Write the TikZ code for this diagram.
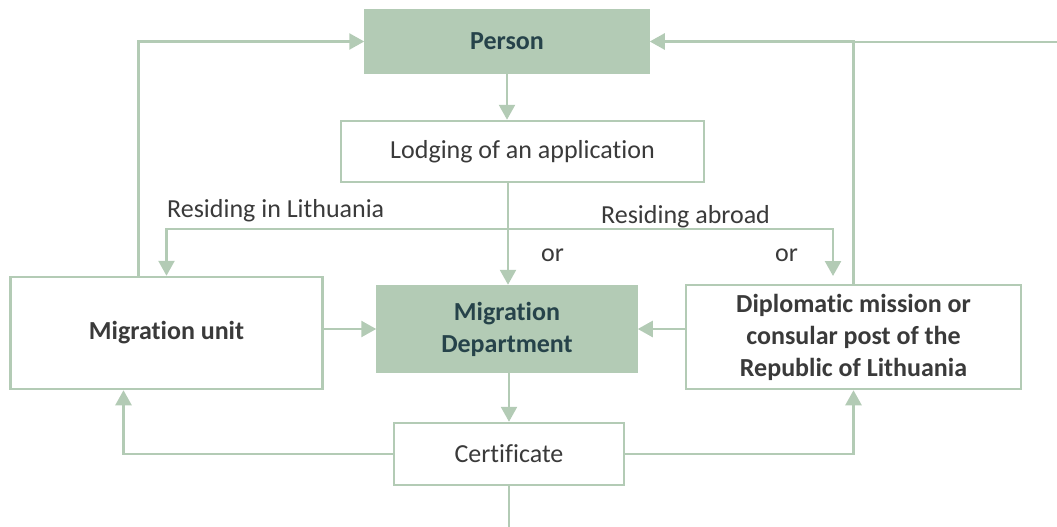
\documentclass[tikz,border=0pt]{standalone}
\usepackage{fontspec}
\setmainfont{Carlito}[Ligatures=NoCommon]
\usepackage{xcolor}
\usepackage{tikz}
\usetikzlibrary{arrows.meta, positioning}

\definecolor{sage}{HTML}{B3CBB5}
\definecolor{slate}{HTML}{26434A}
\definecolor{ink}{HTML}{3A3A3A}

\begin{document}
\begin{tikzpicture}[x=1pt, y=-1pt, node distance=110pt, auto]
\tikzstyle{box} = [rectangle, draw=sage, line width=2.5pt, fill=white, inner sep=0pt, align=center, text=ink, font=\fontsize{26}{32}\selectfont]
\tikzstyle{boldbox} = [box, font=\fontsize{26}{32}\selectfont\bfseries]
\tikzstyle{main} = [boldbox, fill=sage, text=slate]
\tikzstyle{tag} = [inner sep=0pt, anchor=base west, text=ink, font=\fontsize{26}{32}\selectfont]
\tikzstyle{line} = [draw=sage, line width=2.5pt, -{Triangle[length=15pt, width=16pt]}]
\tikzstyle{wire} = [draw=sage, line width=2.5pt]

\useasboundingbox (0,0) rectangle (1057,527);

\node [main, minimum width=283pt, minimum height=63pt] (person) at (507,41.5) {Person};
\node [box, below of=person, xshift=15.5pt, minimum width=363pt, minimum height=61pt] (lodging) {Lodging of an application};
\node [main, below of=person, node distance=287.5pt, minimum width=259pt, minimum height=86pt] (dept) {Migration\\Department};
\node [boldbox, left of=dept, node distance=340.5pt, yshift=-4pt, minimum width=312pt, minimum height=112pt] (unit) {Migration unit};
\node [boldbox, right of=dept, node distance=346.5pt, yshift=-8pt, minimum width=335pt, minimum height=104pt] (mission) {Diplomatic mission or\\consular post of the\\Republic of Lithuania};
\node [box, below of=dept, node distance=125pt, xshift=2pt, minimum width=230pt, minimum height=62pt] (cert) {Certificate};

\coordinate (fork) at (508,229);
\coordinate (abroad) at (833,276);
\coordinate (offpage) at (1057,42);
\coordinate (down) at (509,527);

\node [tag] (inlt) at (167,217) {Residing in Lithuania};
\node [tag] (outlt) at (601,223) {Residing abroad};
\node [tag] (or1) at (541,261) {or};
\node [tag] (or2) at (775,261) {or};

\draw [line] (person) -- (person |- lodging.north);
\draw [line] (lodging.south -| fork) -- (fork |- dept.north);
\draw [line] (fork) -| (unit.north);
\draw [line] (fork) -| (abroad);
\draw [line] ([xshift=-28pt]unit.north) |- (person.west);
\draw [line] (mission.north) |- (person.east);
\draw [wire] (offpage) -- (mission.north |- offpage);
\draw [line] (unit.east |- dept) -- (dept.west);
\draw [line] (mission.west |- dept) -- (dept.east);
\draw [line] (cert.north |- dept.south) -- (cert.north);
\draw [line] (cert.west) -| ([xshift=-43pt]unit.south);
\draw [line] (cert.east) -| (mission.south);
\draw [wire] (cert.south) -- (down);
\end{tikzpicture}
\end{document}
